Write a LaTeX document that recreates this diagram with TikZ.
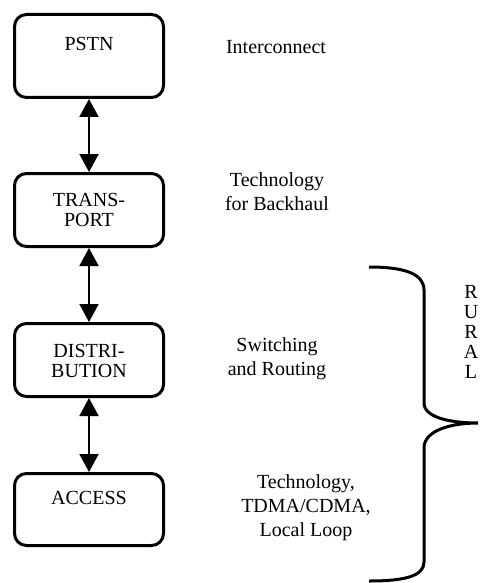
\documentclass[tikz,border=0pt]{standalone}
\usepackage{fontspec}
\setmainfont{Liberation Serif}
\usetikzlibrary{arrows.meta}
\begin{document}
\begin{tikzpicture}[x=1pt,y=-1pt,
  layerbox/.style={draw, line width=3pt, rounded corners=12pt, minimum width=149pt, inner sep=0pt},
  boxtext/.style={align=center, font=\fontsize{20}{20}\selectfont, inner sep=0pt},
  sidetext/.style={align=center, font=\fontsize{20}{24}\selectfont, inner sep=0pt},
  link/.style={line width=2pt, {Triangle[length=18pt,width=19pt]}-{Triangle[length=18pt,width=19pt]}},
  brace/.style={line width=3pt, line cap=butt}]
\useasboundingbox (0,0) rectangle (479,583);
% boxes
\node[layerbox, minimum height=83pt] (pstn) at (89,56) {};
\node[layerbox, minimum height=73pt] (transport) at (89,210) {};
\node[layerbox, minimum height=73pt] (distribution) at (89,360) {};
\node[layerbox, minimum height=72pt] (access) at (89,509.5) {};
% box texts
\node[boxtext] (pstnt) at (89,44) {PSTN};
\node[boxtext] (transportt) at (89,210) {TRANS-\\PORT};
\node[boxtext] (distributiont) at (89,361) {DISTRI-\\BUTION};
\node[boxtext] (accesst) at (89,498) {ACCESS};
% connectors
\draw[link] (pstn.south) -- (transport.north);
\draw[link] (transport.south) -- (distribution.north);
\draw[link] (distribution.south) -- (access.north);
% side texts
\node[sidetext] (inter) at (276,47) {Interconnect};
\node[sidetext] (backhaul) at (277,192) {Technology\\for Backhaul};
\node[sidetext] (switching) at (277,359) {Switching\\and Routing};
\node[sidetext] (loop) at (306,508) {Technology,\\TDMA/CDMA,\\Local Loop};
% brace
\coordinate (btop) at (369,267);
\coordinate (btip) at (478,423);
\coordinate (bbot) at (369,581);
\draw[brace] (btop) .. controls (405,267) and (424,274) .. (424,290)
  -- (424,403) .. controls (424,418) and (452,423) .. (btip)
  .. controls (452,423) and (424,430) .. (424,448)
  -- (424,562) .. controls (424,576) and (405,581) .. (bbot);
\node[align=center, font=\fontsize{20}{20}\selectfont, inner sep=0pt] (rural) at (471,332) {R\\U\\R\\A\\L};
\end{tikzpicture}
\end{document}
